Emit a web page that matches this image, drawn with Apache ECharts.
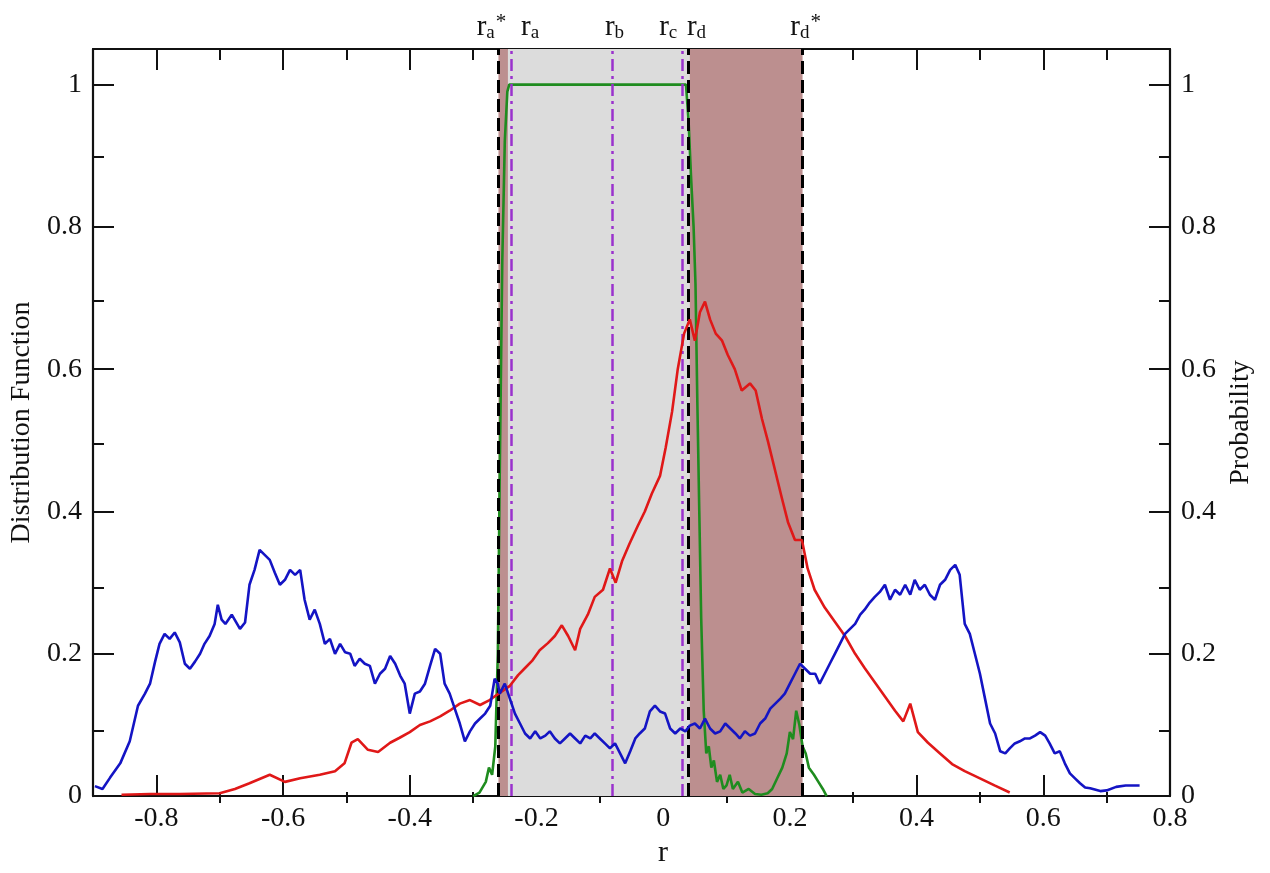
<!DOCTYPE html>
<html>
<head>
<meta charset="utf-8">
<script src="https://cdn.jsdelivr.net/npm/echarts@6/dist/echarts.min.js"></script>
<style>
html,body{margin:0;padding:0;background:#fff;}
#chart{width:1270px;height:873px;}
</style>
</head>
<body>
<div id="chart"></div>
<script>
// ---- data ----
const xMajorTicks = [-0.8,-0.6,-0.4,-0.2,0,0.2,0.4,0.6,0.8];
const xMinorTicks = [-0.7,-0.5,-0.3,-0.1,0.1,0.3,0.5,0.7];
const yMajorTicks = [0,0.2,0.4,0.6,0.8,1];
const yMinorTicks = [0.1,0.3,0.5,0.7,0.9];

const blueR = [-0.897,-0.885,-0.873,-0.857,-0.842,-0.829,-0.818,-0.810,-0.802,-0.795,-0.787,-0.779,-0.771,-0.763,-0.755,-0.747,-0.739,-0.731,-0.724,-0.716,-0.708,-0.703,-0.697,-0.691,-0.681,-0.668,-0.660,-0.653,-0.645,-0.637,-0.629,-0.621,-0.613,-0.605,-0.597,-0.589,-0.581,-0.573,-0.566,-0.558,-0.550,-0.542,-0.534,-0.526,-0.518,-0.510,-0.502,-0.494,-0.487,-0.479,-0.471,-0.463,-0.455,-0.447,-0.439,-0.431,-0.423,-0.415,-0.408,-0.400,-0.392,-0.384,-0.376,-0.368,-0.360,-0.352,-0.345,-0.337,-0.329,-0.321,-0.313,-0.305,-0.297,-0.289,-0.281,-0.273,-0.266,-0.261,-0.258,-0.250,-0.242,-0.234,-0.226,-0.218,-0.210,-0.202,-0.194,-0.186,-0.179,-0.171,-0.163,-0.155,-0.147,-0.139,-0.131,-0.123,-0.115,-0.108,-0.100,-0.092,-0.084,-0.076,-0.068,-0.060,-0.052,-0.044,-0.037,-0.029,-0.021,-0.013,-0.005,0.003,0.011,0.019,0.027,0.035,0.042,0.050,0.058,0.066,0.074,0.082,0.090,0.098,0.106,0.114,0.121,0.129,0.137,0.145,0.153,0.161,0.169,0.177,0.185,0.192,0.200,0.208,0.216,0.224,0.232,0.240,0.247,0.255,0.263,0.271,0.279,0.287,0.295,0.303,0.311,0.318,0.326,0.334,0.342,0.350,0.358,0.366,0.374,0.382,0.390,0.397,0.405,0.413,0.421,0.429,0.437,0.445,0.453,0.461,0.468,0.476,0.484,0.492,0.500,0.508,0.516,0.524,0.532,0.540,0.547,0.555,0.563,0.571,0.579,0.587,0.595,0.603,0.610,0.618,0.626,0.634,0.642,0.650,0.658,0.666,0.674,0.690,0.700,0.715,0.730,0.752];
const blueV = [0.014,0.010,0.026,0.046,0.077,0.127,0.144,0.158,0.189,0.214,0.228,0.221,0.230,0.216,0.186,0.179,0.189,0.200,0.214,0.225,0.242,0.269,0.248,0.242,0.255,0.235,0.244,0.297,0.318,0.346,0.339,0.332,0.314,0.297,0.304,0.318,0.311,0.318,0.276,0.248,0.262,0.242,0.214,0.221,0.200,0.214,0.202,0.200,0.183,0.193,0.186,0.183,0.158,0.172,0.179,0.197,0.186,0.169,0.158,0.116,0.144,0.147,0.158,0.183,0.207,0.200,0.158,0.144,0.123,0.102,0.077,0.091,0.102,0.109,0.116,0.127,0.165,0.158,0.144,0.158,0.137,0.116,0.102,0.088,0.081,0.091,0.081,0.085,0.091,0.081,0.074,0.081,0.088,0.081,0.074,0.085,0.081,0.088,0.081,0.074,0.067,0.074,0.060,0.046,0.063,0.081,0.088,0.095,0.119,0.127,0.119,0.116,0.095,0.088,0.095,0.091,0.099,0.102,0.095,0.109,0.095,0.088,0.091,0.102,0.095,0.088,0.081,0.091,0.085,0.088,0.102,0.109,0.123,0.130,0.137,0.144,0.158,0.172,0.186,0.179,0.172,0.172,0.158,0.172,0.186,0.200,0.214,0.228,0.235,0.242,0.255,0.262,0.272,0.280,0.287,0.297,0.276,0.290,0.283,0.297,0.283,0.304,0.290,0.297,0.283,0.276,0.297,0.304,0.318,0.325,0.311,0.242,0.228,0.200,0.172,0.137,0.102,0.088,0.063,0.060,0.067,0.074,0.077,0.081,0.081,0.085,0.090,0.085,0.074,0.060,0.063,0.046,0.032,0.025,0.018,0.012,0.011,0.007,0.008,0.013,0.015,0.015];

const redR = [-0.855,-0.810,-0.763,-0.700,-0.676,-0.653,-0.621,-0.597,-0.573,-0.542,-0.518,-0.503,-0.492,-0.482,-0.466,-0.450,-0.431,-0.416,-0.400,-0.384,-0.368,-0.352,-0.337,-0.321,-0.305,-0.289,-0.274,-0.258,-0.242,-0.229,-0.218,-0.207,-0.195,-0.182,-0.171,-0.160,-0.150,-0.139,-0.131,-0.119,-0.108,-0.095,-0.084,-0.075,-0.065,-0.053,-0.040,-0.029,-0.018,-0.005,0.004,0.014,0.023,0.033,0.042,0.050,0.058,0.066,0.074,0.083,0.093,0.102,0.113,0.124,0.137,0.146,0.156,0.165,0.176,0.187,0.197,0.208,0.219,0.228,0.239,0.255,0.271,0.287,0.303,0.318,0.334,0.350,0.366,0.379,0.390,0.402,0.418,0.437,0.456,0.476,0.500,0.523,0.547];
const redV = [0.002,0.003,0.003,0.004,0.010,0.018,0.030,0.020,0.025,0.030,0.035,0.046,0.075,0.080,0.065,0.062,0.075,0.082,0.090,0.100,0.105,0.112,0.120,0.130,0.135,0.128,0.135,0.145,0.155,0.170,0.180,0.190,0.205,0.215,0.225,0.240,0.225,0.205,0.235,0.255,0.280,0.290,0.320,0.300,0.330,0.355,0.380,0.400,0.425,0.450,0.490,0.540,0.600,0.650,0.670,0.640,0.680,0.695,0.670,0.650,0.640,0.620,0.600,0.570,0.580,0.570,0.530,0.500,0.460,0.420,0.385,0.360,0.360,0.320,0.290,0.265,0.245,0.225,0.200,0.180,0.160,0.140,0.120,0.105,0.130,0.090,0.075,0.060,0.045,0.035,0.025,0.015,0.005];

const greenR = [-0.300,-0.290,-0.280,-0.275,-0.270,-0.265,-0.261,-0.258,-0.254,-0.250,-0.246,-0.243,0.036,0.040,0.044,0.048,0.051,0.054,0.057,0.060,0.064,0.068,0.072,0.076,0.080,0.085,0.090,0.095,0.100,0.105,0.110,0.118,0.125,0.135,0.145,0.155,0.165,0.172,0.180,0.188,0.195,0.200,0.205,0.210,0.215,0.220,0.225,0.230,0.238,0.245,0.252,0.258];
const greenV = [0.000,0.005,0.020,0.040,0.030,0.070,0.200,0.450,0.750,0.920,0.990,1.000,1.000,0.950,0.870,0.800,0.720,0.550,0.400,0.250,0.120,0.060,0.070,0.040,0.050,0.020,0.030,0.010,0.015,0.030,0.010,0.020,0.005,0.010,0.003,0.002,0.004,0.010,0.025,0.040,0.060,0.090,0.080,0.120,0.100,0.070,0.060,0.040,0.030,0.020,0.010,0.000];

const markSub = ['a','a','b','c','d','d'];
const markStar = [true,false,false,false,false,true];
const markR = [-0.26,-0.245,-0.081,0.032,0.042,0.22];
const markKind = ['dash','dashdot','dashdot','dashdot','dash','dash'];
const markLabelShift = [-7,19,2,-14,8,3];

const zoneFrom = [-0.26,-0.245,0.042];
const zoneTo = [-0.245,0.042,0.22];
const zoneColor = ['#bc8f8f','#dcdcdc','#bc8f8f'];

// ---- chart ----
const zip = (a,b) => a.map((v,i)=>[v,b[i]]);
const serif = 'Liberation Serif, Times New Roman, serif';
const black = '#111';

function xAx(gridIndex, position, ticks, len, showLine, showLabel, name) {
  return {
    type:'value', gridIndex, position, min:-0.9, max:0.8,
    axisLine:{show:showLine, onZero:false, lineStyle:{color:black,width:2.2}},
    axisTick:{show:true, inside:true, length:len, customValues:ticks, lineStyle:{color:black,width:2}},
    axisLabel:{show:showLabel, customValues:ticks, margin:9, color:'#111', fontFamily:serif, fontSize:28},
    splitLine:{show:false},
    name: name || '', nameLocation:'middle', nameGap:30,
    nameTextStyle:{fontFamily:serif, fontSize:30, color:'#111', padding:[0,0,0,63]}
  };
}
function yAx(gridIndex, position, ticks, len, showLine, showLabel, name, gap) {
  return {
    type:'value', gridIndex, position, min:0, max:1.05,
    axisLine:{show:showLine, onZero:false, lineStyle:{color:black,width:2.2}},
    axisTick:{show:true, inside:true, length:len, customValues:ticks, lineStyle:{color:black,width:2}},
    axisLabel:{show:showLabel, customValues:ticks, margin:11, color:'#111', fontFamily:serif, fontSize:28},
    splitLine:{show:false},
    name: name || '', nameLocation:'middle', nameGap:gap||50,
    nameTextStyle:{fontFamily:serif, fontSize:28, color:'#111'}
  };
}

const gridRect = {left:93, right:100, top:49, bottom:70, containLabel:false};

const markLineData = markR.map((r,i)=>({
  xAxis:r,
  lineStyle: markKind[i]==='dash'
    ? {color:'#000', width:3, type:[13,6]}
    : {color:'#9a32cd', width:2.5, type:[12,5,3,5]},
  label:{
    show:true, position:'end', distance:6, offset:[markLabelShift[i],0],
    formatter: '{r|r}{s|' + markSub[i] + '}' + (markStar[i] ? '{p|*}' : ''),
    rich:{
      r:{fontFamily:serif, fontSize:29, color:'#111', verticalAlign:'middle', lineHeight:30},
      s:{fontFamily:serif, fontSize:19, color:'#111', verticalAlign:'bottom', padding:[12,0,0,0]},
      p:{fontFamily:serif, fontSize:21, color:'#111', verticalAlign:'top', padding:[0,0,10,1]}
    }
  }
}));

const option = {
  animation:false,
  backgroundColor:'#fff',
  grid:[Object.assign({},gridRect), Object.assign({},gridRect)],
  xAxis:[
    xAx(0,'bottom',xMajorTicks,21,true,true,'r'),
    xAx(0,'top',xMajorTicks,21,true,false),
    xAx(1,'bottom',xMinorTicks,11,false,false),
    xAx(1,'top',xMinorTicks,11,false,false)
  ],
  yAxis:[
    yAx(0,'left',yMajorTicks,21,true,true,'Distribution Function',51),
    yAx(0,'right',yMajorTicks,21,true,true,'Probability',56),
    yAx(1,'left',yMinorTicks,11,false,false),
    yAx(1,'right',yMinorTicks,11,false,false)
  ],
  series:[
    {
      type:'line', xAxisIndex:0, yAxisIndex:0, data:[], z:1, silent:true,
      markArea:{
        silent:true,
        data: zoneFrom.map((f,i)=>[{xAxis:f, itemStyle:{color:zoneColor[i]}},{xAxis:zoneTo[i]}])
      }
    },
    {
      name:'Probability', type:'line', xAxisIndex:0, yAxisIndex:1, z:3,
      data: zip(greenR, greenV), showSymbol:false, symbol:'none',
      lineStyle:{color:'#1f8c1f', width:2.6}
    },
    {
      type:'line', xAxisIndex:0, yAxisIndex:0, data:[], z:4, silent:true,
      markLine:{silent:true, symbol:['none','none'], data: markLineData}
    },
    {
      name:'red', type:'line', xAxisIndex:0, yAxisIndex:0, z:5,
      data: zip(redR, redV), showSymbol:false, symbol:'none',
      lineStyle:{color:'#e01818', width:2.6}
    },
    {
      name:'blue', type:'line', xAxisIndex:0, yAxisIndex:0, z:6,
      data: zip(blueR, blueV), showSymbol:false, symbol:'none',
      lineStyle:{color:'#1414c4', width:2.6}
    }
  ]
};

const chart = echarts.init(document.getElementById('chart'), null, {renderer:'canvas'});
chart.setOption(option);
</script>
</body>
</html>
